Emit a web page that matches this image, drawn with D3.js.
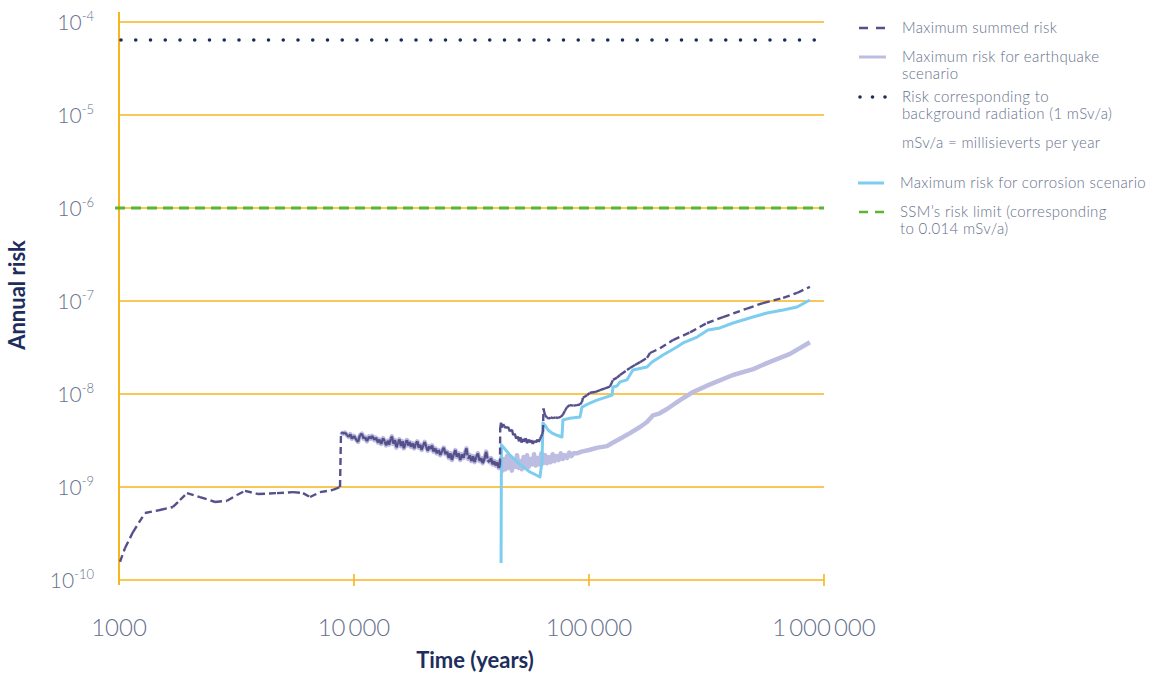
<!DOCTYPE html>
<html>
<head>
<meta charset="utf-8">
<script src="https://cdn.jsdelivr.net/npm/d3@7"></script>
<style>
	body { margin: 0; background: #fff; }
	svg { display: block; font-family: Lato, "Open Sans", sans-serif; }
</style>
</head>
<body>
<div id="chart"></div>
<script>
"use strict";

// == DATA (time in years, annual risk) ==
// summed risk before the jump at ~8800 years
var summedEarly = [
	[1010, 1.57e-10], [1061, 2.21e-10], [1147, 3.28e-10], [1290, 5.25e-10], [1494, 5.66e-10],
	[1697, 6.1e-10], [1818, 7.25e-10], [1946, 8.6e-10], [2211, 7.8e-10], [2562, 6.9e-10],
	[2882, 7.1e-10], [3178, 8.2e-10], [3436, 9.1e-10], [3904, 8.4e-10], [4700, 8.6e-10],
	[5500, 8.8e-10], [6067, 8.6e-10], [6500, 7.8e-10], [7167, 8.8e-10], [8140, 9.3e-10],
	[8720, 1.0e-9]
];

// earthquake dominated plateau (summed == earthquake here)
var plateau = [
	[8805, 3.9e-9], [8950, 3.75e-9], [9150, 3.85e-9], [9350, 3.6e-9], [9500, 3.45e-9],
	[9650, 3.7e-9], [9800, 3.3e-9], [10000, 3.55e-9], [10250, 3.2e-9], [10400, 3.05e-9],
	[10600, 3.6e-9], [10800, 3.75e-9], [11000, 3.3e-9], [11150, 3.45e-9], [11350, 3.1e-9],
	[11600, 3.5e-9], [11750, 3.3e-9], [11950, 3.55e-9], [12200, 3.2e-9], [12400, 3.4e-9],
	[12650, 3.0e-9], [12800, 3.25e-9], [13050, 2.9e-9], [13300, 3.35e-9], [13500, 3.1e-9],
	[13700, 2.8e-9], [13950, 3.15e-9], [14100, 2.85e-9], [14350, 3.3e-9], [14500, 3.5e-9],
	[14700, 2.9e-9], [14950, 3.2e-9], [15150, 2.65e-9], [15400, 3.0e-9], [15600, 3.25e-9],
	[15850, 2.75e-9], [16100, 3.1e-9], [16300, 2.6e-9], [16550, 2.95e-9], [16800, 3.2e-9],
	[17000, 2.8e-9], [17250, 3.05e-9], [17500, 2.7e-9], [17800, 2.95e-9], [18050, 2.6e-9],
	[18300, 2.9e-9], [18600, 3.1e-9], [18850, 2.65e-9], [19150, 2.85e-9], [19400, 2.5e-9],
	[19700, 2.8e-9], [20000, 3.05e-9], [20300, 2.7e-9], [20600, 2.45e-9], [20900, 2.75e-9],
	[21200, 2.55e-9], [21500, 2.8e-9], [21800, 2.4e-9], [22200, 2.6e-9], [22500, 2.3e-9],
	[22900, 2.5e-9], [23300, 2.2e-9], [23700, 2.45e-9], [24100, 2.65e-9], [24500, 2.25e-9],
	[24900, 2.4e-9], [25300, 2.05e-9], [25700, 2.3e-9], [26100, 1.95e-9], [26500, 2.2e-9],
	[27000, 2.5e-9], [27400, 2.1e-9], [27900, 2.3e-9], [28300, 1.95e-9], [28800, 2.25e-9],
	[29200, 2.05e-9], [29700, 2.35e-9], [30100, 2.6e-9], [30600, 2.0e-9], [31100, 2.2e-9],
	[31600, 1.9e-9], [32100, 2.15e-9], [32600, 1.85e-9], [33100, 2.1e-9], [33700, 2.3e-9],
	[34200, 1.9e-9], [34800, 2.05e-9], [35300, 1.8e-9], [35900, 2.0e-9], [36500, 2.4e-9],
	[37100, 1.95e-9], [37700, 1.85e-9], [38300, 2.05e-9], [38900, 1.75e-9], [39500, 1.9e-9],
	[40100, 1.7e-9], [40700, 1.85e-9], [41300, 1.6e-9], [41800, 1.7e-9]
];

var summedLate = [
	[41900, 4.3e-9], [42250, 4.9e-9], [42600, 4.35e-9], [43100, 4.75e-9], [43600, 4.5e-9],
	[44300, 4.3e-9], [45200, 4.45e-9], [46100, 3.95e-9], [47000, 4.15e-9], [47600, 3.6e-9],
	[48300, 3.75e-9], [49000, 3.3e-9], [49700, 3.5e-9], [50400, 3.1e-9], [51000, 3.45e-9],
	[51700, 3.0e-9], [52400, 3.3e-9], [53000, 3.05e-9], [53800, 3.35e-9], [54500, 2.95e-9],
	[55300, 3.25e-9], [56000, 3.0e-9], [56800, 3.2e-9], [57700, 2.9e-9], [58500, 3.15e-9],
	[59400, 3.0e-9], [60300, 3.25e-9], [61100, 3.05e-9], [61900, 3.3e-9], [62600, 3.5e-9],
	[63200, 3.7e-9], [63700, 3.9e-9], [64000, 7.0e-9],
	[65000, 5.9e-9], [66250, 5.6e-9], [67500, 5.4e-9], [68700, 5.6e-9], [70300, 5.5e-9],
	[72000, 5.6e-9], [73800, 5.52e-9], [76000, 5.7e-9], [77450, 6.0e-9], [79000, 6.6e-9],
	[80550, 7.2e-9], [82950, 7.6e-9], [86000, 7.5e-9], [88850, 7.6e-9], [91550, 7.7e-9],
	[93350, 8.2e-9], [94250, 9.1e-9], [98050, 9.7e-9], [100900, 1.03e-8], [106100, 1.05e-8],
	[111400, 1.1e-8], [117000, 1.15e-8], [122800, 1.2e-8], [126500, 1.42e-8], [131600, 1.5e-8],
	[135500, 1.6e-8], [145100, 1.81e-8], [149400, 1.9e-8], [156900, 2.05e-8], [164800, 2.2e-8],
	[176500, 2.45e-8], [181900, 2.76e-8], [200600, 3.1e-8], [227700, 3.8e-8], [269200, 4.6e-8],
	[317800, 5.8e-8], [371500, 6.7e-8], [470000, 8.3e-8], [549700, 9.5e-8], [669900, 1.08e-7],
	[767900, 1.22e-7], [871000, 1.42e-7]
];

var quakeLate = [
	[42300, 2.05e-9], [42900, 1.5e-9], [43500, 2.0e-9], [44100, 1.55e-9], [44800, 2.15e-9],
	[45500, 1.6e-9], [46300, 2.1e-9], [47000, 1.5e-9], [47800, 1.95e-9], [48600, 1.65e-9],
	[49400, 2.2e-9], [50200, 1.6e-9], [51000, 1.9e-9], [51800, 1.55e-9], [52700, 2.1e-9],
	[53600, 1.7e-9], [54500, 2.2e-9], [55400, 1.65e-9], [56400, 2.0e-9], [57400, 1.75e-9],
	[58400, 2.25e-9], [59400, 1.7e-9], [60500, 2.05e-9], [61600, 1.75e-9], [62700, 2.3e-9],
	[63800, 1.8e-9], [65000, 2.2e-9], [66200, 1.8e-9], [67400, 2.1e-9], [68700, 1.85e-9],
	[70000, 2.25e-9], [71400, 1.9e-9], [72800, 2.15e-9], [74300, 1.95e-9], [75800, 2.3e-9],
	[77400, 2.0e-9], [79000, 2.2e-9], [80700, 2.05e-9], [82400, 2.35e-9], [84200, 2.15e-9],
	[86000, 2.3e-9], [88800, 2.3e-9], [93000, 2.4e-9], [100000, 2.5e-9], [109000, 2.65e-9],
	[119300, 2.75e-9], [125000, 2.95e-9], [135500, 3.3e-9], [149400, 3.8e-9], [164800, 4.42e-9],
	[176500, 5.0e-9], [187300, 5.9e-9], [200000, 6.2e-9], [214800, 6.9e-9], [243900, 8.6e-9],
	[277300, 1.05e-8], [327300, 1.27e-8], [410000, 1.6e-8], [500000, 1.85e-8], [571700, 2.15e-8],
	[716600, 2.7e-8], [871000, 3.6e-8]
];

var corrosion = [
	[42250, 1.52e-10], [42400, 2.83e-9], [46100, 2.2e-9], [50850, 1.75e-9], [56100, 1.45e-9],
	[61850, 1.28e-9], [63100, 1.9e-9], [63700, 4.88e-9], [65000, 4.6e-9], [66950, 4.1e-9],
	[69650, 3.8e-9], [73100, 3.6e-9], [76750, 3.45e-9], [77450, 5.25e-9], [82950, 5.5e-9],
	[91550, 5.66e-9], [93350, 7.24e-9], [100900, 8.0e-9], [108100, 8.6e-9], [119300, 9.3e-9],
	[125300, 9.75e-9], [126500, 1.19e-8], [131600, 1.22e-8], [135500, 1.35e-8], [145100, 1.42e-8],
	[153800, 1.81e-8], [176500, 1.95e-8], [185500, 2.21e-8], [206500, 2.63e-8], [236700, 3.2e-8],
	[251200, 3.54e-8], [288400, 4.1e-8], [320800, 4.88e-8], [360700, 5.13e-8], [410000, 5.8e-8],
	[498400, 6.73e-8], [571700, 7.43e-8], [669900, 8.0e-8], [767900, 8.61e-8], [871000, 1.025e-7]
];

var backgroundRisk = 6.4e-5;   // 1 mSv/a
var ssmLimit = 1e-6;           // 0.014 mSv/a

var xTicks = [1000, 10000, 100000, 1000000];
var xTickLabels = ["1000", "10\u2009000", "100\u2009000", "1\u2009000\u2009000"];
var yExponents = [-4, -5, -6, -7, -8, -9, -10];

var legendItems = [
	{ lines: ["Maximum summed risk"], key: "summed" },
	{ lines: ["Maximum risk for earthquake", "scenario"], key: "quake" },
	{ lines: ["Risk corresponding to", "background radiation (1 mSv/a)"], key: "background" },
	{ lines: ["mSv/a = millisieverts per year"], key: "none" },
	{ lines: ["Maximum risk for corrosion scenario"], key: "corrosion" },
	{ lines: ["SSM\u2019s risk limit (corresponding", "to 0.014 mSv/a)"], key: "ssm" }
];

// == STYLE ==
var col = {
	grid: "#f7b51e",
	summed: "#55508a",
	quake: "#bdbde1",
	corrosion: "#7dcdef",
	background: "#1c2b5a",
	ssm: "#5cb432",
	tick: "#66708c",
	title: "#1e2d5c"
};

var W = 1170, H = 673;
var svg = d3.select("#chart").append("svg")
	.attr("width", W).attr("height", H);

var x = d3.scaleLog().domain([1000, 1000000]).range([119, 824]);
var y = d3.scaleLog().domain([1e-10, 1e-4]).range([580, 22]);

// gridlines
svg.selectAll(".grid")
	.data(yExponents)
	.enter().append("line")
	.attr("x1", x(1000)).attr("x2", x(1000000))
	.attr("y1", function (e) { return y(Math.pow(10, e)); })
	.attr("y2", function (e) { return y(Math.pow(10, e)); })
	.style("stroke", col.grid).style("stroke-width", 1.6);

// left axis line
svg.append("line")
	.attr("x1", x(1000)).attr("x2", x(1000))
	.attr("y1", 12).attr("y2", 585)
	.style("stroke", col.grid).style("stroke-width", 2);

// bottom ticks
svg.selectAll(".xt")
	.data(xTicks.slice(1))
	.enter().append("line")
	.attr("x1", function (d) { return x(d); }).attr("x2", function (d) { return x(d); })
	.attr("y1", 574).attr("y2", 586)
	.style("stroke", col.grid).style("stroke-width", 1.6);

// y tick labels: 10 with superscript exponent
var yl = svg.selectAll(".yl")
	.data(yExponents)
	.enter().append("text")
	.attr("x", 94)
	.attr("y", function (e) { return y(Math.pow(10, e)) + 8; })
	.attr("text-anchor", "end")
	.style("fill", col.tick).style("font-size", "21px").style("font-weight", 300);
yl.append("tspan").text("10");
yl.append("tspan")
	.attr("dy", -9).style("font-size", "13px")
	.text(function (e) { return "-" + (-e); });

// x tick labels
svg.selectAll(".xl")
	.data(xTicks)
	.enter().append("text")
	.attr("x", function (d) { return x(d); })
	.attr("y", 636)
	.attr("text-anchor", "middle")
	.style("fill", col.tick).style("font-size", "24px").style("font-weight", 300)
	.text(function (d, i) { return xTickLabels[i]; });

// axis titles
svg.append("text")
	.attr("x", 475).attr("y", 668)
	.attr("text-anchor", "middle")
	.style("fill", col.title).style("font-size", "22px").style("font-weight", 700)
	.text("Time (years)");
svg.append("text")
	.attr("transform", "translate(25,295) rotate(-90)")
	.attr("text-anchor", "middle")
	.style("fill", col.title).style("font-size", "22px").style("font-weight", 700)
	.text("Annual risk");

// reference lines
svg.append("line")
	.attr("x1", x(1000) + 2).attr("x2", x(1000000) + 4)
	.attr("y1", y(backgroundRisk)).attr("y2", y(backgroundRisk))
	.style("stroke", col.background).style("stroke-width", 3.6)
	.style("stroke-linecap", "round").style("stroke-dasharray", "0,14.75");

svg.append("line")
	.attr("x1", x(1000) - 4).attr("x2", x(1000000))
	.attr("y1", y(ssmLimit)).attr("y2", y(ssmLimit))
	.style("stroke", col.ssm).style("stroke-width", 3)
	.style("stroke-dasharray", "10,6");

// series
var line = d3.line()
	.x(function (d) { return x(d[0]); })
	.y(function (d) { return y(d[1]); });

var quake = plateau.concat(quakeLate);
var summed = summedEarly.concat(plateau, summedLate);

svg.append("path")
	.datum(quake)
	.attr("d", line)
	.style("fill", "none").style("stroke", col.quake)
	.style("stroke-width", 4.5).style("stroke-linejoin", "round");

svg.append("path")
	.datum(corrosion)
	.attr("d", line)
	.style("fill", "none").style("stroke", col.corrosion)
	.style("stroke-width", 3).style("stroke-linejoin", "round");

// dash pattern restarts each segment, so dense noisy parts read as solid
svg.selectAll(".seg")
	.data(d3.pairs(summed))
	.enter().append("line")
	.attr("x1", function (p) { return x(p[0][0]); })
	.attr("y1", function (p) { return y(p[0][1]); })
	.attr("x2", function (p) { return x(p[1][0]); })
	.attr("y2", function (p) { return y(p[1][1]); })
	.style("stroke", col.summed).style("stroke-width", 2.4)
	.style("stroke-dasharray", "7,4");

// legend
var lg = svg.append("g");
var rowY = [28, 57, 97, 143, 183, 212];
legendItems.forEach(function (item, i) {
	var cy = rowY[i];
	var tx = item.key == "corrosion" || item.key == "ssm" ? 900 : 902;
	if (item.key == "summed")
		lg.append("line").attr("x1", 859).attr("x2", 887).attr("y1", cy).attr("y2", cy)
			.style("stroke", col.summed).style("stroke-width", 2.6).style("stroke-dasharray", "9,8");
	else if (item.key == "quake")
		lg.append("line").attr("x1", 859).attr("x2", 886).attr("y1", cy).attr("y2", cy)
			.style("stroke", col.quake).style("stroke-width", 3);
	else if (item.key == "background")
		lg.append("line").attr("x1", 860).attr("x2", 888).attr("y1", cy).attr("y2", cy)
			.style("stroke", col.background).style("stroke-width", 3.6)
			.style("stroke-linecap", "round").style("stroke-dasharray", "0,12.5");
	else if (item.key == "corrosion")
		lg.append("line").attr("x1", 858).attr("x2", 884).attr("y1", cy).attr("y2", cy)
			.style("stroke", col.corrosion).style("stroke-width", 3);
	else if (item.key == "ssm")
		lg.append("line").attr("x1", 859).attr("x2", 884).attr("y1", cy).attr("y2", cy)
			.style("stroke", col.ssm).style("stroke-width", 2.6).style("stroke-dasharray", "9,7");

	item.lines.forEach(function (t, j) {
		lg.append("text")
			.attr("x", tx).attr("y", cy + 5 + j * 16.5)
			.style("fill", col.tick).style("font-size", "15px").style("font-weight", 300)
			.style("letter-spacing", "0.35px")
			.text(t);
	});
});
</script>
</body>
</html>
